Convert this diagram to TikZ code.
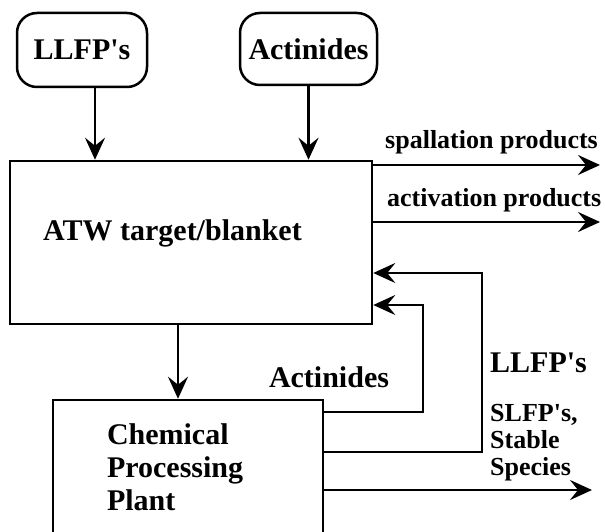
\documentclass[tikz,border=0pt]{standalone}
\usepackage{fontspec}
\setmainfont{Liberation Serif}
\usetikzlibrary{arrows.meta,positioning,calc}
\tikzstyle{source} = [rectangle, rounded corners=20pt, draw=black, line width=2.5pt, font=\fontsize{30}{33}\selectfont\bfseries, inner sep=0pt]
\tikzstyle{process} = [rectangle, draw=black, line width=2.5pt]
\tikzstyle{arrow} = [line width=2.5pt, -{Stealth[length=22pt,width=20pt,inset=8pt]}]
\tikzstyle{big} = [font=\fontsize{30}{33}\selectfont\bfseries, inner sep=0pt]
\tikzstyle{small} = [font=\fontsize{26}{27}\selectfont\bfseries, inner sep=0pt]

\begin{document}
\begin{tikzpicture}[x=1pt, y=-1pt]
\clip (0,0) rectangle (605,532);
% inputs and the two boxes
\node (llfpin) [source, minimum width=130pt, minimum height=74pt] at (82,50) {LLFP\textquotesingle s};
\node (actin) [source, minimum width=137pt, minimum height=72pt] at (308.5,49) {Actinides};
\node (atw) [process, minimum width=362pt, minimum height=163pt] at (191,242.5) {};
\node (atwlbl) [big, anchor=west] at (43,233) {ATW target/blanket};
\node (chem) [process, big, minimum width=270pt, minimum height=135pt, text width=162pt, inner xsep=54pt, align=left] at (188,467.5) {Chemical\\Processing\\Plant};
% free ends and bends
\coordinate (spalend) at (600,165);
\coordinate (actvend) at (600,222);
\coordinate (slfpend) at (592,490);
\coordinate (llfpbend) at (482,273);
\coordinate (actbend) at (423,305);
% flows
\draw [arrow] ([xshift=13pt]llfpin.south) -- ([xshift=13pt]llfpin.south |- atw.north);
\draw [arrow] (actin.south) -- (actin.south |- atw.north);
\draw [arrow] ([xshift=-10pt]chem.north |- atw.south) -- ([xshift=-10pt]chem.north);
\draw [arrow] (atw.east |- spalend) -- (spalend);
\draw [arrow] (atw.east |- actvend) -- (actvend);
\draw [arrow] ([yshift=55.5pt]chem.east) -| (actbend) -- (actbend -| atw.east);
\draw [arrow] ([yshift=15.5pt]chem.east) -| (llfpbend) -- (llfpbend -| atw.east);
\draw [arrow] (chem.east |- slfpend) -- (slfpend);
% labels
\node (spal) [small, anchor=west] at (385,142) {spallation products};
\node (actv) [small, anchor=west] at (387,200) {activation products};
\node (retact) [big] at (329,377) {Actinides};
\node (retllfp) [big, anchor=west] at (490,363) {LLFP\textquotesingle s};
\node (slfp) [small, anchor=north west, align=left] at (490,404) {SLFP\textquotesingle s,\\Stable\\Species};
\end{tikzpicture}
\end{document}
